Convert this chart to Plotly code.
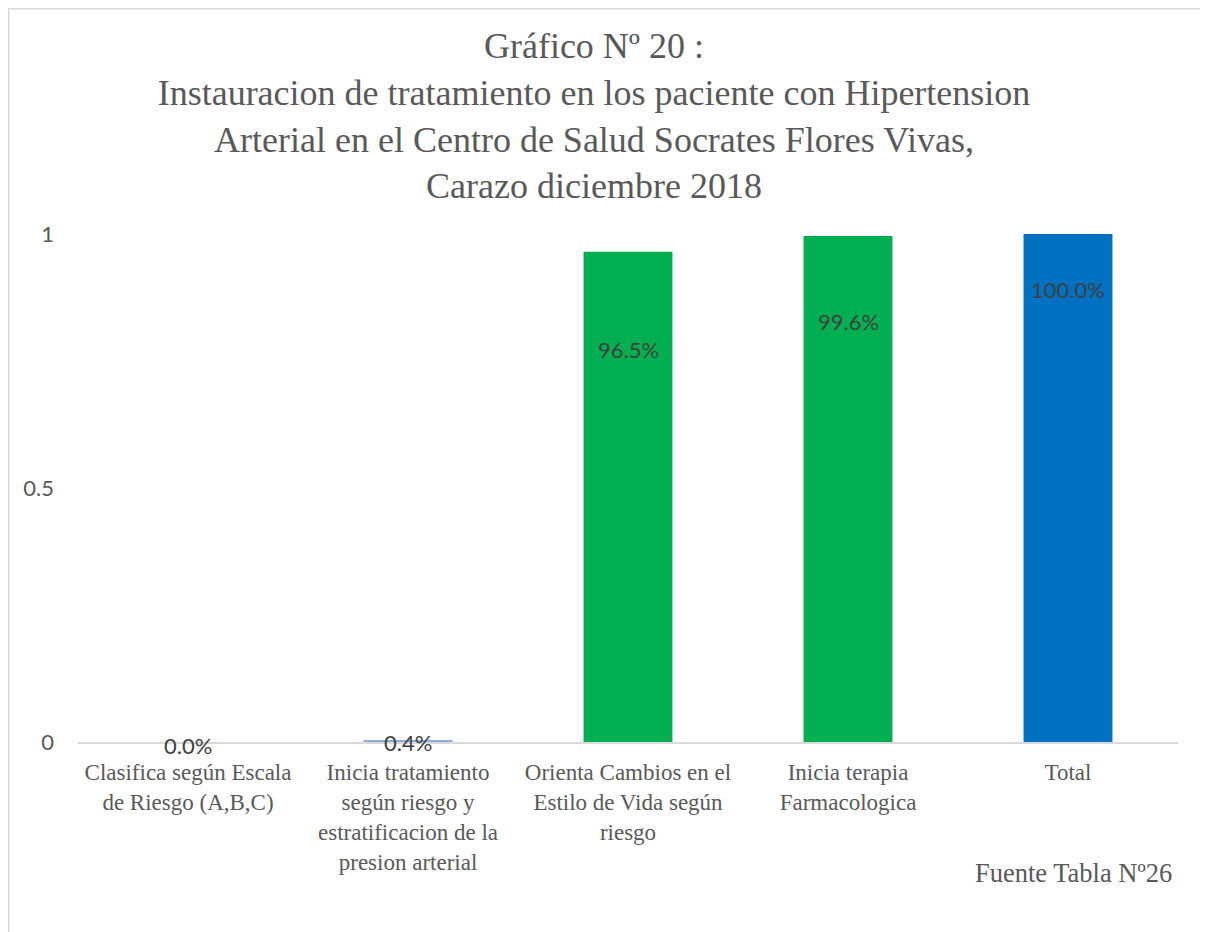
import plotly.graph_objects as go

categories = [
    "Clasifica según Escala<br>de Riesgo (A,B,C)",
    "Inicia tratamiento<br>según riesgo y<br>estratificacion de la<br>presion arterial",
    "Orienta Cambios en el<br>Estilo de Vida según<br>riesgo",
    "Inicia terapia<br>Farmacologica",
    "Total",
]
values = [0.0, 0.004, 0.965, 0.996, 1.0]
value_labels = ["0.0%", "0.4%", "96.5%", "99.6%", "100.0%"]
bar_colors = ["#5B9BD5", "#8FAADC", "#00B050", "#00B050", "#0070C0"]
label_y = [0.0, 0.0, 0.772, 0.827, 0.89]
label_shift = [-3, 0, 0, 0, 0]
y_ticks = [0, 0.5, 1]
y_tick_labels = ["0", "0.5", "1"]

title_text = ("Gráfico Nº 20 :<br>Instauracion de tratamiento en los paciente con Hipertension"
              "<br>Arterial en el Centro de Salud Socrates Flores Vivas,<br>Carazo diciembre 2018")

# page has an 8px body margin; figure sized to fill the rest of the window
W, H = 1200, 924
L, R, T, B = 70, 30, 226, 190
pw, ph = W - L - R, H - T - B

fig = go.Figure()
fig.add_trace(go.Bar(
    x=categories, y=values, marker=dict(color=bar_colors, line=dict(width=0)),
    width=0.404, showlegend=False, hoverinfo="skip",
))

for c, v, s, t in zip(categories, label_y, label_shift, value_labels):
    fig.add_annotation(x=c, y=v, yshift=s, text=t, showarrow=False, xref="x", yref="y",
                       font=dict(family="Lato", size=22, color="#404040"),
                       xanchor="center", yanchor="middle")

fig.add_annotation(x=(1166 - L) / pw, y=(T + ph - 865) / ph, xref="paper", yref="paper",
                   text="Fuente Tabla Nº26", showarrow=False, xanchor="right", yanchor="middle",
                   font=dict(family="Liberation Serif", size=26.5, color="#595959"))

fig.add_shape(type="rect", xref="paper", yref="paper",
              x0=(0.75 - L) / pw, x1=(1195 - L) / pw,
              y0=(T + ph - 960) / ph, y1=(T + ph - 0.75) / ph,
              line=dict(color="#D9D9D9", width=1.5), fillcolor="rgba(0,0,0,0)", layer="below")

fig.update_layout(
    width=W, height=H,
    margin=dict(l=L, r=R, t=T, b=B, autoexpand=False),
    paper_bgcolor="white", plot_bgcolor="white",
    title=dict(text=title_text, x=586 / W, xanchor="center", xref="container",
               y=1 - 50 / H, yanchor="top", yref="container",
               font=dict(family="Liberation Serif", size=36, color="#595959")),
    xaxis=dict(showgrid=False, showline=True, linecolor="#D9D9D9", linewidth=1.5,
               ticks="", ticklabelstandoff=9,
               tickfont=dict(family="Liberation Serif", size=23, color="#595959"),
               tickangle=0, range=[-0.5, 4.5]),
    yaxis=dict(range=[0, 1], showgrid=False, zeroline=False, showline=False,
               tickvals=y_ticks, ticktext=y_tick_labels, ticks="",
               ticklabelstandoff=23,
               tickfont=dict(family="Lato", size=22, color="#595959")),
)

fig.write_html("out.html")
